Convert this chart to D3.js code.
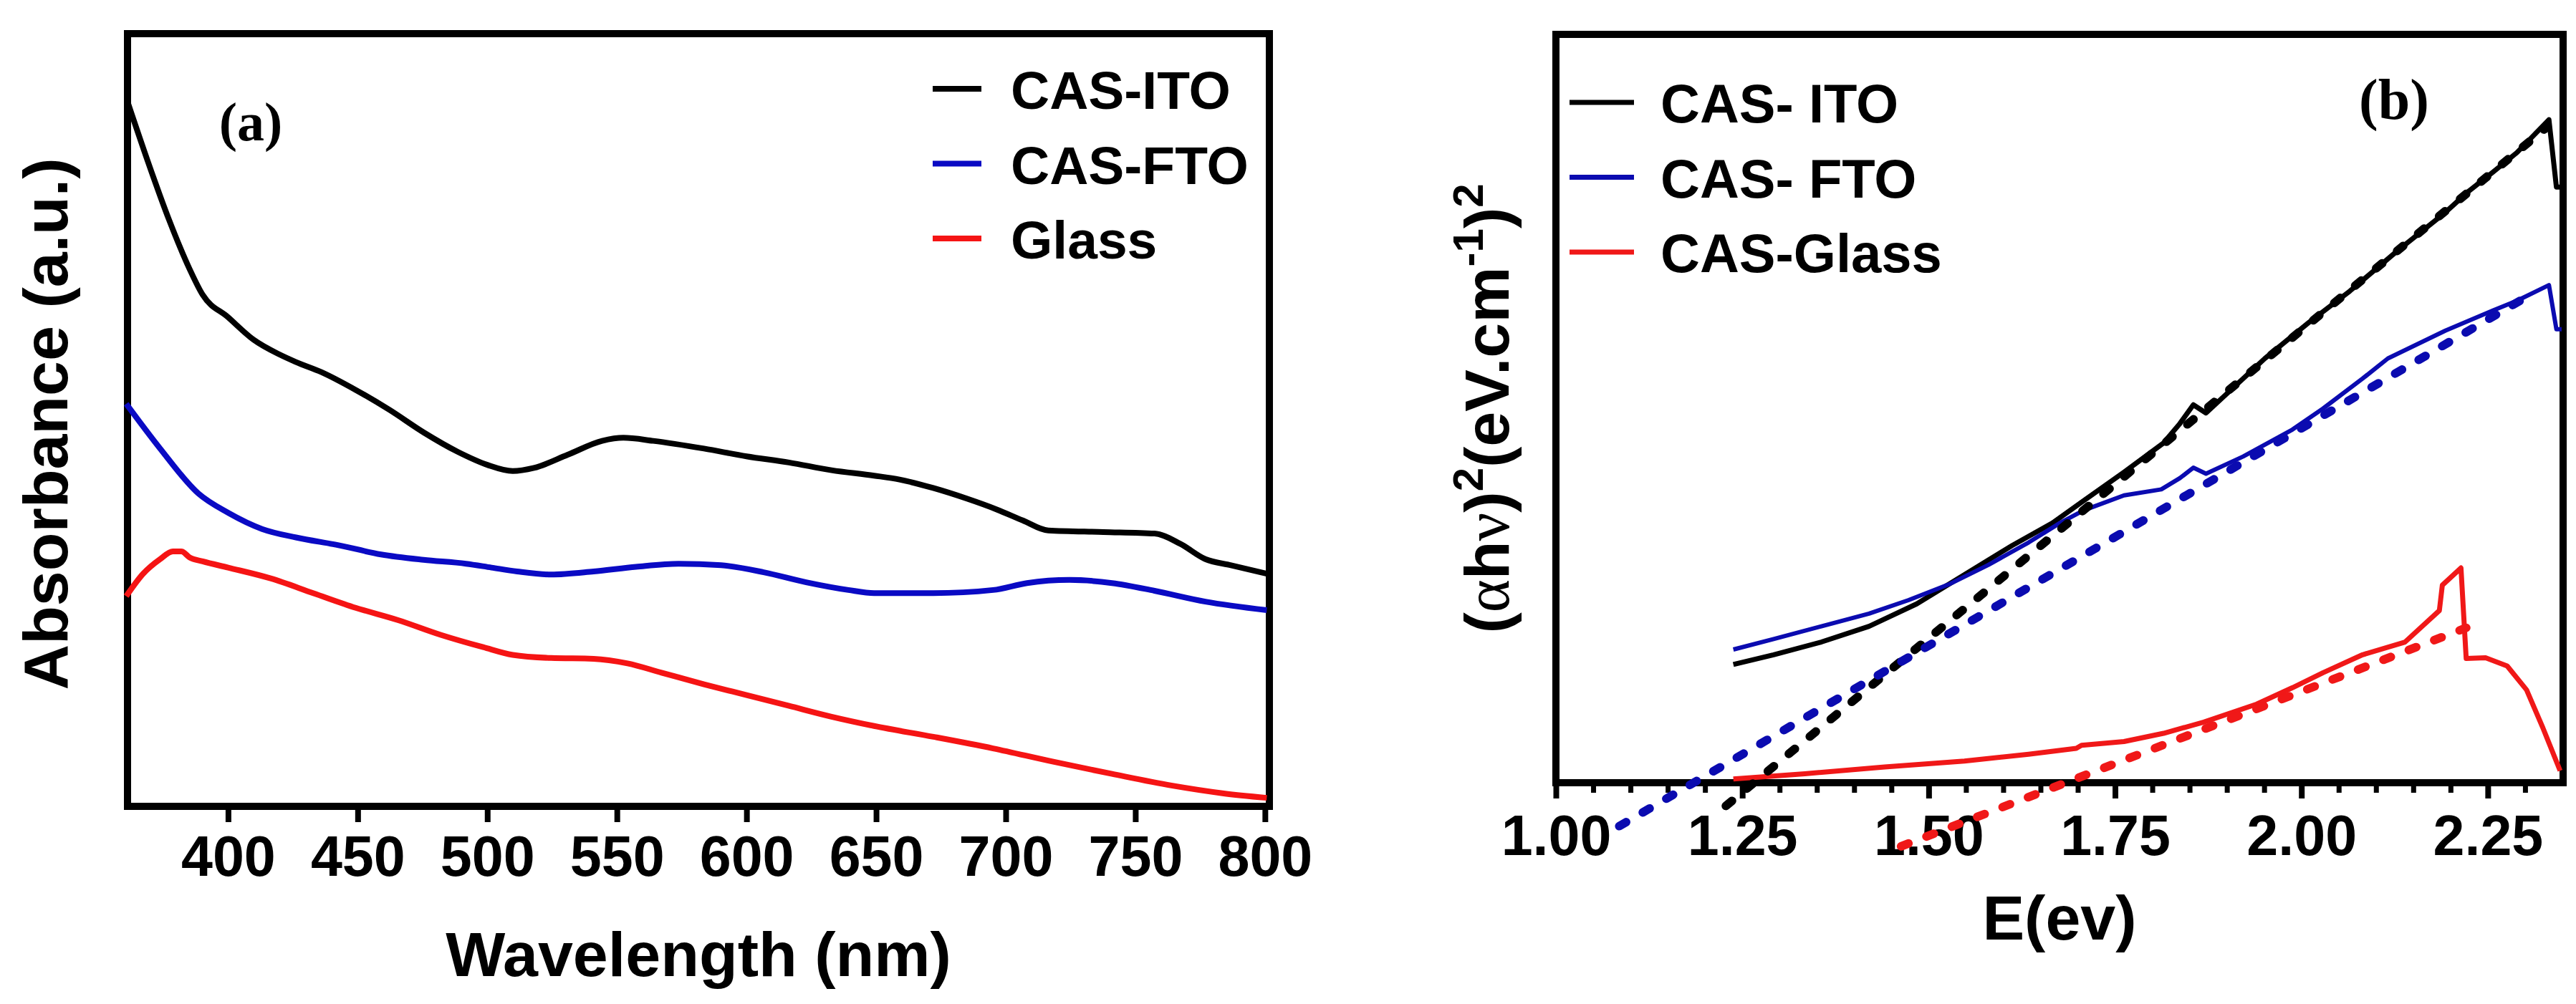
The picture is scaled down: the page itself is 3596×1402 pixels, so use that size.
<!DOCTYPE html>
<html>
<head>
<meta charset="utf-8">
<script src="https://cdn.jsdelivr.net/npm/d3@7"></script>
<style>
  body { margin: 0; background: #fff; }
  svg { display: block; }
</style>
</head>
<body>
<div id="chart"></div>
<script>
// Panel (a): absorbance spectra, arbitrary units (0 = bottom axis, 1 = top)
var itoWl  = [361.3, 368.9, 377, 385.2, 390.2, 400, 409.8, 419.7, 426.2, 436, 449.2, 462.3, 475.4, 488.5, 500, 509.8, 518, 531, 544.3, 552.5, 564, 583.6, 600, 616.4, 632.8, 649.2, 659, 672, 685.2, 696.7, 706.6, 716.4, 737.7, 757.4, 767.2, 777, 786.9, 800.7];
var itoAbs = [0.911, 0.836, 0.761, 0.695, 0.662, 0.633, 0.604, 0.585, 0.575, 0.562, 0.539, 0.513, 0.484, 0.459, 0.442, 0.434, 0.438, 0.455, 0.473, 0.477, 0.473, 0.463, 0.453, 0.445, 0.435, 0.428, 0.423, 0.412, 0.398, 0.384, 0.370, 0.357, 0.355, 0.353, 0.340, 0.320, 0.312, 0.301];

var ftoWl  = [360.7, 373.8, 388.5, 400, 413.1, 426.2, 442.6, 459, 475.4, 491.8, 501.6, 511.5, 524.6, 541, 557.4, 573.8, 590.2, 606.6, 623, 639.3, 649.2, 672.1, 695.1, 708.2, 724.6, 741, 757.4, 777, 800.7];
var ftoAbs = [0.521, 0.463, 0.405, 0.380, 0.359, 0.348, 0.338, 0.326, 0.319, 0.314, 0.309, 0.304, 0.300, 0.304, 0.310, 0.314, 0.312, 0.303, 0.290, 0.280, 0.276, 0.276, 0.280, 0.289, 0.293, 0.289, 0.279, 0.265, 0.254];

var glassWl  = [360.7, 367.2, 373.8, 378.7, 382, 385.2, 390.2, 400, 416.4, 432.8, 449.2, 465.6, 482, 498.4, 509.8, 524.6, 541, 554.1, 567.2, 583.6, 600, 616.4, 632.8, 649.2, 672.1, 695.1, 718, 741, 763.9, 783.6, 800.7];
var glassAbs = [0.272, 0.301, 0.320, 0.330, 0.330, 0.322, 0.317, 0.309, 0.295, 0.276, 0.257, 0.241, 0.222, 0.206, 0.196, 0.192, 0.191, 0.185, 0.173, 0.158, 0.144, 0.130, 0.116, 0.104, 0.090, 0.075, 0.058, 0.042, 0.027, 0.017, 0.011];

var waveTicks = [400, 450, 500, 550, 600, 650, 700, 750, 800];
var legendA = ["CAS-ITO", "CAS-FTO", "Glass"];

// Panel (b): Tauc plot, arbitrary units
var itoE   = [1.238, 1.292, 1.356, 1.420, 1.484, 1.548, 1.612, 1.666, 1.708, 1.762, 1.815, 1.837, 1.855, 1.872, 1.951, 2.010, 2.065, 2.129, 2.193, 2.225, 2.257, 2.289, 2.332, 2.342, 2.349];
var itoTau = [0.158, 0.171, 0.188, 0.209, 0.239, 0.278, 0.317, 0.347, 0.377, 0.415, 0.454, 0.480, 0.505, 0.494, 0.567, 0.615, 0.657, 0.711, 0.762, 0.791, 0.816, 0.842, 0.886, 0.796, 0.796];

var ftoE   = [1.238, 1.292, 1.356, 1.420, 1.473, 1.527, 1.580, 1.634, 1.676, 1.708, 1.762, 1.812, 1.837, 1.855, 1.872, 1.922, 1.988, 2.029, 2.082, 2.116, 2.193, 2.257, 2.289, 2.332, 2.342, 2.349];
var ftoTau = [0.178, 0.192, 0.209, 0.226, 0.244, 0.265, 0.291, 0.321, 0.347, 0.364, 0.384, 0.392, 0.407, 0.421, 0.413, 0.436, 0.472, 0.500, 0.540, 0.567, 0.604, 0.631, 0.644, 0.665, 0.606, 0.606];

var glassE   = [1.238, 1.334, 1.441, 1.548, 1.634, 1.698, 1.705, 1.762, 1.815, 1.869, 1.940, 1.988, 2.029, 2.082, 2.139, 2.185, 2.189, 2.214, 2.221, 2.247, 2.276, 2.302, 2.324, 2.347];
var glassTau = [0.005, 0.012, 0.021, 0.029, 0.038, 0.046, 0.050, 0.055, 0.066, 0.081, 0.105, 0.127, 0.147, 0.171, 0.188, 0.230, 0.264, 0.287, 0.166, 0.167, 0.156, 0.124, 0.073, 0.016];

// linear fits (start, end)
var itoFitE   = [1.228, 2.328];
var itoFitTau = [-0.031, 0.875];
var ftoFitE   = [1.085, 2.300];
var ftoFitTau = [-0.058, 0.648];
var glassFitE   = [1.463, 2.221];
var glassFitTau = [-0.085, 0.207];

var energyTicks = [1.00, 1.25, 1.50, 1.75, 2.00, 2.25];
var energyMinor = [1.05, 1.10, 1.15, 1.20, 1.30, 1.35, 1.40, 1.45, 1.55, 1.60, 1.65, 1.70, 1.80, 1.85, 1.90, 1.95, 2.05, 2.10, 2.15, 2.20, 2.30];
var legendB = ["CAS- ITO", "CAS- FTO", "CAS-Glass"];

var colorsA = ["#000000", "#0a0ac4", "#f51414"];
var colorsB = ["#000000", "#0b0bb0", "#f01818"];
var widthsB = [7, 6, 7];

var sans = "'Liberation Sans', Arial, sans-serif";
var serif = "'Liberation Serif', 'Times New Roman', serif";

var svg = d3.select("#chart").append("svg")
    .attr("width", 3596)
    .attr("height", 1402);

function zip(xs, ys) {
    return xs.map(function (d, i) { return [d, ys[i]]; });
}

// ---------- panel (a) ----------
var xA = d3.scaleLinear().domain([361.2, 801.7]).range([178, 1772]);
var yA = d3.scaleLinear().domain([0, 1]).range([1126, 47]);

var axisA = svg.append("g")
    .attr("transform", "translate(0," + yA(0) + ")")
    .call(d3.axisBottom(xA).tickValues(waveTicks).tickSizeInner(22).tickSizeOuter(0).tickPadding(19));
axisA.select(".domain").remove();
axisA.selectAll(".tick line").attr("stroke-width", 8);
axisA.selectAll(".tick text").attr("font-family", sans).attr("font-weight", "bold").attr("font-size", 79);

svg.append("rect")
    .attr("x", xA.range()[0]).attr("y", yA.range()[1])
    .attr("width", xA.range()[1] - xA.range()[0])
    .attr("height", yA.range()[0] - yA.range()[1])
    .attr("fill", "none").attr("stroke", "#000").attr("stroke-width", 10);

var lineA = d3.line()
    .x(function (d) { return xA(d[0]); })
    .y(function (d) { return yA(d[1]); })
    .curve(d3.curveMonotoneX);

var seriesA = [zip(itoWl, itoAbs), zip(ftoWl, ftoAbs), zip(glassWl, glassAbs)];
seriesA.forEach(function (s, i) {
    svg.append("path")
        .attr("d", lineA(s))
        .attr("fill", "none")
        .attr("stroke", colorsA[i])
        .attr("stroke-width", 8)
        .attr("stroke-linejoin", "round");
});

// legend a
legendA.forEach(function (name, i) {
    var y = 124 + i * 104.5;
    svg.append("line")
        .attr("x1", 1302).attr("x2", 1370)
        .attr("y1", y).attr("y2", y)
        .attr("stroke", colorsA[i]).attr("stroke-width", 8);
    svg.append("text")
        .attr("x", 1411).attr("y", y + 28)
        .attr("font-family", sans).attr("font-weight", "bold").attr("font-size", 75)
        .text(name);
});

svg.append("text")
    .attr("x", 350).attr("y", 196)
    .attr("text-anchor", "middle")
    .attr("font-family", serif).attr("font-weight", "bold").attr("font-size", 76)
    .text("(a)");

svg.append("text")
    .attr("x", d3.mean(xA.range())).attr("y", 1363)
    .attr("text-anchor", "middle")
    .attr("font-family", sans).attr("font-weight", "bold").attr("font-size", 88)
    .text("Wavelength (nm)");

svg.append("text")
    .attr("transform", "translate(94,592) rotate(-90)")
    .attr("text-anchor", "middle")
    .attr("font-family", sans).attr("font-weight", "bold").attr("font-size", 88)
    .text("Absorbance (a.u.)");

// ---------- panel (b) ----------
var xB = d3.scaleLinear().domain([1.0, 2.351]).range([2172, 3578]);
var yB = d3.scaleLinear().domain([0, 1]).range([1093, 48]);

var minorB = svg.append("g")
    .attr("transform", "translate(0," + yB(0) + ")")
    .call(d3.axisBottom(xB).tickValues(energyMinor).tickSizeInner(14).tickSizeOuter(0).tickFormat(""));
minorB.select(".domain").remove();
minorB.selectAll(".tick line").attr("stroke-width", 7);

var axisB = svg.append("g")
    .attr("transform", "translate(0," + yB(0) + ")")
    .call(d3.axisBottom(xB).tickValues(energyTicks).tickSizeInner(22).tickSizeOuter(0).tickPadding(23)
        .tickFormat(d3.format(".2f")));
axisB.select(".domain").remove();
axisB.selectAll(".tick line").attr("stroke-width", 8);
axisB.selectAll(".tick text").attr("font-family", sans).attr("font-weight", "bold").attr("font-size", 79);

svg.append("rect")
    .attr("x", xB.range()[0]).attr("y", yB.range()[1])
    .attr("width", xB.range()[1] - xB.range()[0])
    .attr("height", yB.range()[0] - yB.range()[1])
    .attr("fill", "none").attr("stroke", "#000").attr("stroke-width", 10);

var lineB = d3.line()
    .x(function (d) { return xB(d[0]); })
    .y(function (d) { return yB(d[1]); });

var fitsB = [zip(itoFitE, itoFitTau), zip(ftoFitE, ftoFitTau), zip(glassFitE, glassFitTau)];
var seriesB = [zip(itoE, itoTau), zip(ftoE, ftoTau), zip(glassE, glassTau)];

seriesB.forEach(function (s, i) {
    svg.append("path")
        .attr("d", lineB(s))
        .attr("fill", "none")
        .attr("stroke", colorsB[i])
        .attr("stroke-width", widthsB[i])
        .attr("stroke-linejoin", "round");
});

fitsB.forEach(function (s, i) {
    svg.append("path")
        .attr("d", lineB(s))
        .attr("fill", "none")
        .attr("stroke", colorsB[i])
        .attr("stroke-width", 12)
        .attr("stroke-dasharray", "11,27")
        .attr("stroke-linecap", "round");
});

legendB.forEach(function (name, i) {
    var y = 143 + i * 104.5;
    svg.append("line")
        .attr("x1", 2191).attr("x2", 2281)
        .attr("y1", y).attr("y2", y)
        .attr("stroke", colorsB[i]).attr("stroke-width", 7);
    svg.append("text")
        .attr("x", 2318).attr("y", y + 28)
        .attr("font-family", sans).attr("font-weight", "bold").attr("font-size", 76)
        .text(name);
});

svg.append("text")
    .attr("x", 3342).attr("y", 166)
    .attr("text-anchor", "middle")
    .attr("font-family", serif).attr("font-weight", "bold").attr("font-size", 80)
    .text("(b)");

svg.append("text")
    .attr("x", d3.mean(xB.range())).attr("y", 1312)
    .attr("text-anchor", "middle")
    .attr("font-family", sans).attr("font-weight", "bold").attr("font-size", 88)
    .text("E(ev)");

var yLab = svg.append("text")
    .attr("transform", "translate(2106," + d3.mean(yB.range()) + ") rotate(-90)")
    .attr("text-anchor", "middle")
    .attr("font-family", sans).attr("font-weight", "bold").attr("font-size", 88);
yLab.append("tspan").text("(");
yLab.append("tspan").attr("font-family", serif).attr("font-weight", "normal").text("\u03b1");
yLab.append("tspan").text("h");
yLab.append("tspan").attr("font-family", serif).attr("font-weight", "normal").text("\u03bd");
yLab.append("tspan").text(")");
yLab.append("tspan").attr("font-size", 60).attr("dy", -36).text("2");
yLab.append("tspan").attr("dy", 36).text("(eV.cm");
yLab.append("tspan").attr("font-size", 60).attr("dy", -36).text("-1");
yLab.append("tspan").attr("dy", 36).text(")");
yLab.append("tspan").attr("font-size", 60).attr("dy", -36).text("2");
</script>
</body>
</html>
